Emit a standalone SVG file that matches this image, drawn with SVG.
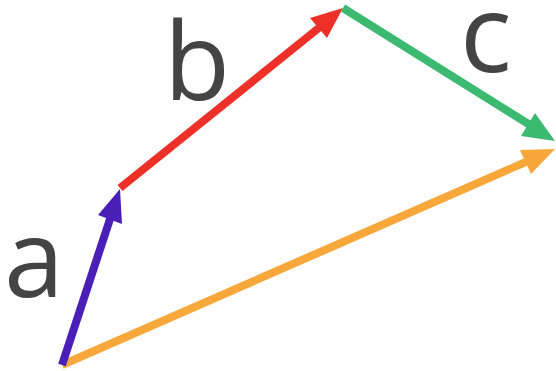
<svg xmlns="http://www.w3.org/2000/svg" width="556" height="371" viewBox="0 0 556 371">
<style>
.lbl{font-family:"Open Sans",Lato,"Liberation Sans",sans-serif;font-weight:400;font-size:108px;fill:#444444}
.ln{stroke-width:8;fill:none;stroke-linecap:butt}
</style>
<rect width="556" height="371" fill="#ffffff"/>
<g id="connectors">
  <g id="vec-orange">
    <line class="ln" x1="62" y1="365" x2="528" y2="161" stroke="#f8a83a"/>
    <polygon points="555,149 531,174 520,150" fill="#f8a83a"/>
  </g>
  <g id="vec-a">
    <line class="ln" x1="62" y1="365" x2="111" y2="216" stroke="#4a1fb8"/>
    <polygon points="120,189 122,224 98,215" fill="#4a1fb8"/>
  </g>
  <g id="vec-b">
    <line class="ln" x1="120" y1="188" x2="320" y2="27" stroke="#ee3128"/>
    <polygon points="343,8 327,38 310,18" fill="#ee3128"/>
  </g>
  <g id="vec-c">
    <line class="ln" x1="343" y1="8" x2="530" y2="125" stroke="#3dba72"/>
    <polygon points="555,141 521,136 535,113" fill="#3dba72"/>
  </g>
</g>
<g id="label-a"><text class="lbl" x="4" y="297">a</text></g>
<g id="label-b"><text class="lbl" x="164" y="100">b</text></g>
<g id="label-c"><text class="lbl" x="460" y="72">c</text></g>
</svg>
